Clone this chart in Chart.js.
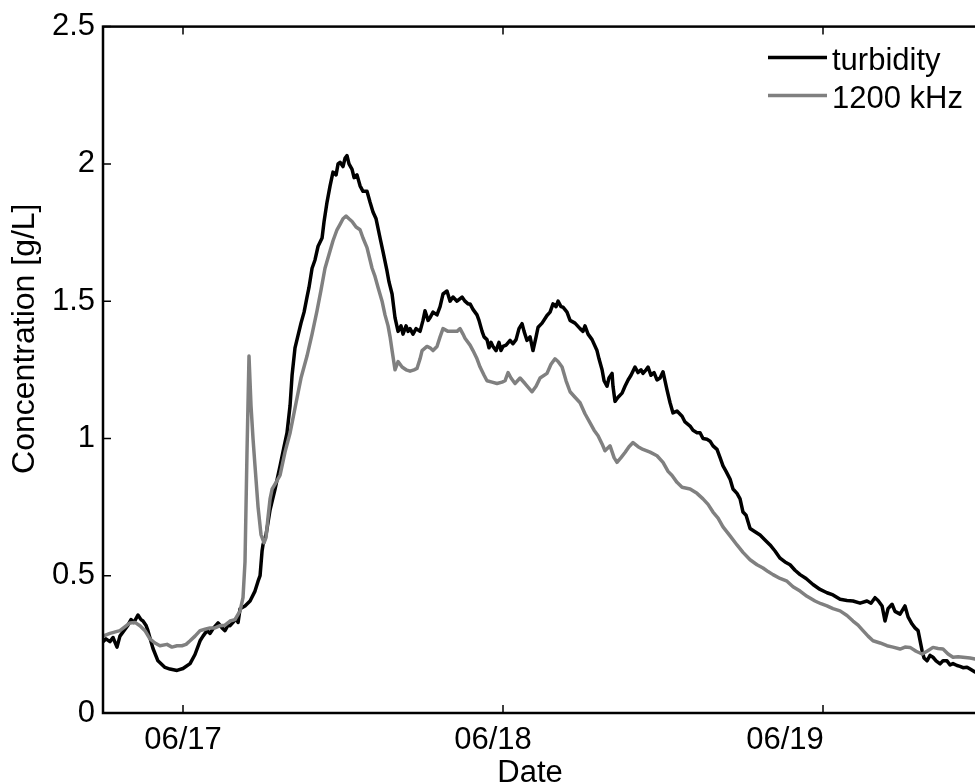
<!DOCTYPE html>
<html>
<head>
<meta charset="utf-8">
<script src="https://cdn.jsdelivr.net/npm/chart.js@4.4.1/dist/chart.umd.min.js"></script>
<style>
  html, body { margin: 0; padding: 0; background: #fff; overflow: hidden; }
  #chart-container { width: 990px; height: 800px; }
</style>
</head>
<body>
<div id="chart-container"><canvas id="myChart"></canvas></div>
<script>
// x values are hours since 06/17 00:00
const dayTicks = [0, 24, 48];
const dayLabels = ["06/17", "06/18", "06/19"];
// where the date labels sit in the original (they drift left of their ticks)
const dayLabelHours = [0, 23.25, 45.15];
const yTicks = [0, 0.5, 1, 1.5, 2, 2.5];

// [hour, g/L]
const turbidity = [
  [-6.0, 0.26], [-5.78, 0.27], [-5.48, 0.26], [-5.25, 0.275], [-4.95, 0.24], [-4.73, 0.28], [-4.43, 0.30],
  [-4.13, 0.32], [-3.90, 0.34], [-3.68, 0.33], [-3.38, 0.357], [-3.15, 0.34], [-3.00, 0.335], [-2.78, 0.32],
  [-2.63, 0.30], [-2.40, 0.26], [-2.25, 0.235], [-1.88, 0.19], [-1.35, 0.166], [-0.98, 0.16], [-0.45, 0.155],
  [0, 0.162], [0.53, 0.18], [0.90, 0.213], [1.28, 0.263], [1.50, 0.28], [1.80, 0.30], [2.03, 0.29],
  [2.25, 0.307], [2.63, 0.328], [2.93, 0.31], [3.15, 0.30], [3.38, 0.32], [3.53, 0.318], [3.75, 0.33],
  [3.98, 0.343], [4.13, 0.33], [4.28, 0.38], [4.65, 0.39], [5.03, 0.408], [5.40, 0.444], [5.63, 0.48],
  [5.78, 0.50], [5.93, 0.59], [6.00, 0.613], [6.23, 0.65], [6.53, 0.74], [6.90, 0.815], [7.28, 0.90],
  [7.58, 0.97], [7.80, 1.02], [8.03, 1.12], [8.18, 1.23], [8.40, 1.33], [8.55, 1.36], [8.85, 1.42],
  [9.08, 1.46], [9.30, 1.515], [9.45, 1.55], [9.68, 1.62], [9.90, 1.65], [10.13, 1.70], [10.43, 1.73],
  [10.58, 1.79], [10.80, 1.86], [11.03, 1.92], [11.25, 1.97], [11.48, 1.96], [11.63, 2.00], [11.78, 2.006],
  [12.00, 1.99], [12.15, 2.02], [12.30, 2.03], [12.45, 2.00], [12.68, 1.98], [12.83, 1.95], [13.05, 1.96],
  [13.28, 1.92], [13.50, 1.90], [13.80, 1.90], [14.03, 1.86], [14.25, 1.825], [14.48, 1.80], [14.78, 1.73],
  [15.00, 1.68], [15.30, 1.61], [15.45, 1.57], [15.68, 1.526], [15.90, 1.44], [16.13, 1.39], [16.35, 1.41],
  [16.50, 1.38], [16.73, 1.41], [16.88, 1.39], [17.03, 1.40], [17.25, 1.38], [17.48, 1.40], [17.78, 1.39],
  [18.00, 1.43], [18.15, 1.465], [18.38, 1.43], [18.53, 1.44], [18.75, 1.46], [19.05, 1.45], [19.28, 1.48],
  [19.50, 1.526], [19.80, 1.537], [20.03, 1.50], [20.25, 1.515], [20.55, 1.50], [20.93, 1.515], [21.15, 1.50],
  [21.38, 1.49], [21.53, 1.49], [21.75, 1.47], [22.05, 1.45], [22.20, 1.43], [22.43, 1.39], [22.58, 1.37],
  [22.80, 1.36], [22.95, 1.33], [23.10, 1.35], [23.25, 1.335], [23.48, 1.32], [23.70, 1.35], [23.85, 1.32],
  [24.00, 1.335], [24.23, 1.34], [24.53, 1.357], [24.75, 1.345], [24.98, 1.36], [25.20, 1.40], [25.43, 1.418],
  [25.58, 1.39], [25.80, 1.357], [26.03, 1.37], [26.25, 1.32], [26.48, 1.37], [26.63, 1.405], [26.93, 1.42],
  [27.30, 1.448], [27.53, 1.46], [27.75, 1.49], [27.98, 1.48], [28.13, 1.50], [28.35, 1.48], [28.50, 1.478],
  [28.80, 1.46], [29.03, 1.43], [29.40, 1.42], [29.78, 1.40], [30.00, 1.39], [30.15, 1.41], [30.38, 1.38],
  [30.68, 1.36], [31.05, 1.32], [31.20, 1.29], [31.43, 1.25], [31.58, 1.21], [31.80, 1.19], [31.95, 1.22],
  [32.18, 1.237], [32.25, 1.19], [32.40, 1.135], [32.63, 1.15], [32.93, 1.165], [33.15, 1.19], [33.38, 1.213],
  [33.60, 1.23], [33.90, 1.26], [34.13, 1.24], [34.35, 1.25], [34.50, 1.237], [34.73, 1.25], [34.88, 1.26],
  [35.10, 1.23], [35.33, 1.24], [35.55, 1.213], [35.78, 1.22], [36.00, 1.243], [36.30, 1.177], [36.53, 1.13],
  [36.75, 1.093], [37.05, 1.10], [37.43, 1.081], [37.65, 1.06], [38.03, 1.045], [38.25, 1.03], [38.55, 1.021],
  [38.78, 1.021], [39.00, 1.00], [39.30, 0.997], [39.53, 0.99], [39.75, 0.973], [40.05, 0.96], [40.28, 0.93],
  [40.50, 0.90], [40.73, 0.88], [41.03, 0.852], [41.25, 0.816], [41.55, 0.80], [41.78, 0.78], [42.00, 0.732],
  [42.23, 0.72], [42.53, 0.672], [42.90, 0.66], [43.28, 0.648], [43.65, 0.63], [44.03, 0.612], [44.40, 0.59],
  [44.78, 0.564], [45.15, 0.55], [45.53, 0.54], [45.90, 0.52], [46.28, 0.504], [46.73, 0.49], [47.25, 0.468],
  [47.78, 0.45], [48.30, 0.438], [48.75, 0.43], [49.28, 0.414], [49.80, 0.41], [50.25, 0.408], [50.78, 0.40],
  [51.30, 0.408], [51.60, 0.40], [51.90, 0.42], [52.13, 0.41], [52.43, 0.39], [52.65, 0.335], [52.88, 0.38],
  [53.18, 0.396], [53.40, 0.37], [53.78, 0.36], [54.15, 0.39], [54.38, 0.35], [54.68, 0.324], [54.90, 0.31],
  [55.13, 0.30], [55.43, 0.227], [55.58, 0.20], [55.80, 0.19], [56.03, 0.21], [56.25, 0.203], [56.48, 0.19],
  [56.78, 0.179], [57.00, 0.19], [57.30, 0.19], [57.53, 0.175], [57.75, 0.18], [58.05, 0.173], [58.28, 0.17],
  [58.50, 0.165], [58.80, 0.167], [59.03, 0.16], [59.40, 0.149], [60.00, 0.145]
];

const acoustic1200 = [
  [-6.0, 0.28], [-5.48, 0.29], [-4.73, 0.30], [-3.98, 0.328], [-3.60, 0.33], [-3.23, 0.318], [-2.85, 0.30],
  [-2.48, 0.27], [-2.10, 0.255], [-1.73, 0.245], [-1.20, 0.25], [-0.83, 0.24], [-0.45, 0.245], [-0.08, 0.245],
  [0.23, 0.25], [0.53, 0.263], [0.90, 0.28], [1.28, 0.30], [1.65, 0.305], [2.03, 0.31], [2.40, 0.31],
  [2.78, 0.318], [3.15, 0.32], [3.53, 0.335], [3.90, 0.34], [4.28, 0.372], [4.50, 0.42], [4.65, 0.55],
  [4.80, 0.95], [4.95, 1.30], [5.10, 1.12], [5.25, 1.00], [5.40, 0.90], [5.63, 0.75], [5.85, 0.65],
  [6.08, 0.62], [6.23, 0.64], [6.38, 0.714], [6.53, 0.78], [6.68, 0.815], [6.98, 0.84], [7.28, 0.866],
  [7.65, 0.95], [8.03, 1.02], [8.18, 1.057], [8.48, 1.13], [8.85, 1.22], [9.30, 1.30], [9.68, 1.38],
  [10.05, 1.465], [10.35, 1.54], [10.65, 1.62], [10.95, 1.67], [11.25, 1.72], [11.55, 1.76], [11.78, 1.78],
  [12.00, 1.80], [12.23, 1.81], [12.45, 1.80], [12.68, 1.79], [12.98, 1.77], [13.28, 1.76], [13.50, 1.73],
  [13.80, 1.695], [14.18, 1.62], [14.40, 1.59], [14.63, 1.55], [14.93, 1.50], [15.15, 1.45], [15.38, 1.41],
  [15.53, 1.37], [15.68, 1.32], [15.90, 1.25], [16.13, 1.28], [16.43, 1.26], [16.73, 1.25], [17.03, 1.245],
  [17.33, 1.25], [17.55, 1.255], [17.78, 1.29], [17.93, 1.32], [18.30, 1.335], [18.53, 1.33], [18.75, 1.32],
  [19.05, 1.335], [19.28, 1.37], [19.50, 1.40], [19.88, 1.39], [20.25, 1.39], [20.55, 1.39], [20.78, 1.40],
  [21.00, 1.38], [21.15, 1.365], [21.53, 1.34], [21.75, 1.32], [22.05, 1.29], [22.28, 1.26], [22.58, 1.23],
  [22.80, 1.21], [23.18, 1.205], [23.55, 1.20], [23.93, 1.205], [24.15, 1.21], [24.38, 1.24], [24.60, 1.22],
  [24.90, 1.20], [25.28, 1.22], [25.65, 1.20], [26.18, 1.17], [26.48, 1.19], [26.78, 1.22], [27.30, 1.237],
  [27.60, 1.27], [27.90, 1.29], [28.13, 1.28], [28.43, 1.26], [28.73, 1.21], [29.03, 1.17], [29.40, 1.15],
  [29.78, 1.13], [30.15, 1.09], [30.53, 1.057], [30.83, 1.03], [31.13, 1.01], [31.43, 0.98], [31.65, 0.955],
  [32.03, 0.973], [32.33, 0.93], [32.55, 0.913], [32.85, 0.93], [33.15, 0.949], [33.45, 0.97], [33.75, 0.985],
  [34.13, 0.97], [34.50, 0.96], [35.03, 0.95], [35.55, 0.937], [36.00, 0.913], [36.38, 0.88], [36.68, 0.865],
  [37.05, 0.84], [37.43, 0.822], [38.03, 0.816], [38.55, 0.80], [39.00, 0.78], [39.38, 0.76], [39.75, 0.732],
  [40.13, 0.71], [40.50, 0.678], [41.03, 0.645], [41.55, 0.612], [42.00, 0.585], [42.53, 0.558], [43.05, 0.54],
  [43.50, 0.528], [43.88, 0.515], [44.25, 0.504], [44.78, 0.49], [45.30, 0.48], [45.75, 0.46], [46.28, 0.444],
  [46.80, 0.425], [47.40, 0.408], [47.85, 0.398], [48.30, 0.39], [48.75, 0.38], [49.28, 0.372], [49.80, 0.355],
  [50.25, 0.335], [50.63, 0.32], [51.00, 0.30], [51.38, 0.28], [51.75, 0.263], [52.28, 0.255], [52.80, 0.245],
  [53.25, 0.24], [53.78, 0.233], [54.15, 0.24], [54.53, 0.239], [54.98, 0.225], [55.43, 0.215], [55.80, 0.225],
  [56.25, 0.239], [56.63, 0.235], [57.00, 0.233], [57.38, 0.215], [57.75, 0.203], [58.13, 0.205], [58.50, 0.203],
  [59.03, 0.20], [59.40, 0.197], [60.00, 0.195]
];

const fontFamily = "'Liberation Sans', Arial, Helvetica, sans-serif";
const font = { family: fontFamily, size: 31 };

// box around the axes, inward tick marks and the legend (matlab style)
const axesBox = {
  id: "axesBox",
  afterDraw(chart) {
    const { ctx, chartArea: a, scales } = chart;
    ctx.save();
    ctx.strokeStyle = "#000";
    ctx.lineWidth = 1.5;
    ctx.beginPath();
    dayTicks.forEach((h) => {
      const x = scales.x.getPixelForValue(h);
      ctx.moveTo(x, a.bottom);
      ctx.lineTo(x, a.bottom - 8);
      ctx.moveTo(x, a.top);
      ctx.lineTo(x, a.top + 8);
    });
    yTicks.forEach((v) => {
      const y = scales.y.getPixelForValue(v);
      ctx.moveTo(a.left, y);
      ctx.lineTo(a.left + 8, y);
      ctx.moveTo(a.right, y);
      ctx.lineTo(a.right - 8, y);
    });
    ctx.stroke();
    ctx.lineWidth = 2.5;
    ctx.strokeRect(a.left, a.top, a.right - a.left, a.bottom - a.top);

    // legend
    ctx.font = "31px " + fontFamily;
    ctx.textBaseline = "alphabetic";
    ctx.textAlign = "left";
    chart.data.datasets.forEach((ds, i) => {
      const y = a.top + 31 + i * 38;
      ctx.strokeStyle = ds.borderColor;
      ctx.lineWidth = 3.5;
      ctx.beginPath();
      ctx.moveTo(a.right - 215, y);
      ctx.lineTo(a.right - 156, y);
      ctx.stroke();
      ctx.fillStyle = "#000";
      ctx.fillText(ds.label, a.right - 151, y + 12);
    });
    ctx.restore();
  },
};

const ctx = document.getElementById("myChart").getContext("2d");

new Chart(ctx, {
  type: "line",
  data: {
    datasets: [
      {
        label: "turbidity",
        data: turbidity.map((p) => ({ x: p[0], y: p[1] })),
        borderColor: "#000000",
        borderWidth: 3.5,
        pointRadius: 0,
        tension: 0,
        borderJoinStyle: "round",
        order: 1,
      },
      {
        label: "1200 kHz",
        data: acoustic1200.map((p) => ({ x: p[0], y: p[1] })),
        borderColor: "#808080",
        borderWidth: 3.5,
        pointRadius: 0,
        tension: 0,
        borderJoinStyle: "round",
        order: 0,
      },
    ],
  },
  options: {
    responsive: true,
    maintainAspectRatio: false,
    animation: false,
    layout: { padding: { top: 20, right: 7, left: 0, bottom: 0 } },
    plugins: {
      legend: { display: false },
      tooltip: { enabled: false },
    },
    scales: {
      x: {
        type: "linear",
        min: -6,
        max: 60,
        grid: { display: false, drawTicks: false },
        border: { display: false },
        afterBuildTicks: (scale) => {
          scale.ticks = dayLabelHours.map((v) => ({ value: v }));
        },
        ticks: {
          callback: (value, index) => dayLabels[index],
          color: "#000",
          font: font,
          padding: 9,
          maxRotation: 0,
          autoSkip: false,
        },
        title: {
          display: true,
          // trailing spaces pull the centred word left, as in the original
          text: "Date   ",
          color: "#000",
          font: font,
          padding: { top: 0, bottom: 8 },
        },
        afterFit: (scale) => {
          scale.height = 87;
        },
      },
      y: {
        min: 0,
        max: 2.5,
        grid: { display: false, drawTicks: false },
        border: { display: false },
        afterBuildTicks: (scale) => {
          scale.ticks = yTicks.map((v) => ({ value: v }));
        },
        ticks: {
          callback: (value) => String(value),
          color: "#000",
          font: font,
          padding: 8,
        },
        title: {
          display: true,
          // leading spaces push the label up the axis, as in the original
          text: "       Concentration [g/L]",
          color: "#000",
          font: { family: fontFamily, size: 32 },
          padding: { top: 6, bottom: 0 },
        },
        afterFit: (scale) => {
          scale.width = 103;
        },
      },
    },
  },
  plugins: [axesBox],
});
</script>
</body>
</html>
